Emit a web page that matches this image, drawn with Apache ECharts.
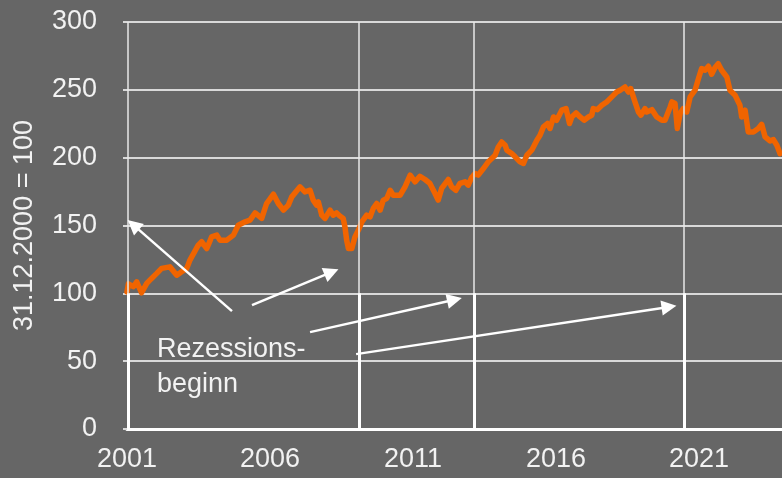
<!DOCTYPE html>
<html>
<head>
<meta charset="utf-8">
<script src="https://cdn.jsdelivr.net/npm/echarts@6/dist/echarts.min.js"></script>
<style>
  html, body { margin: 0; padding: 0; background: #666666; }
  #chart { width: 782px; height: 478px; }
</style>
</head>
<body>
<div id="chart"></div>
<script>
  // Zeitpunkte (Dezimaljahre) und Indexwerte, 31.12.2000 = 100
  var years = [
    2001.00, 2001.05, 2001.22, 2001.34, 2001.51, 2001.69, 2001.86, 2002.04, 2002.21, 2002.50,
    2002.74, 2002.91, 2003.09, 2003.20, 2003.49, 2003.61, 2003.79, 2003.96, 2004.14, 2004.25,
    2004.49, 2004.72, 2004.89, 2005.13, 2005.30, 2005.48, 2005.71, 2005.88, 2006.12, 2006.29,
    2006.47, 2006.64, 2006.76, 2007.05, 2007.22, 2007.40, 2007.51, 2007.63, 2007.69, 2007.81,
    2007.92, 2008.10, 2008.21, 2008.33, 2008.45, 2008.56, 2008.62, 2008.68, 2008.74, 2008.86,
    2008.97, 2009.09, 2009.21, 2009.38, 2009.50, 2009.61, 2009.73, 2009.85, 2009.96, 2010.08,
    2010.20, 2010.31, 2010.55, 2010.72, 2010.90, 2011.07, 2011.24, 2011.42, 2011.59, 2011.77,
    2011.88, 2012.00, 2012.23, 2012.35, 2012.50, 2012.64, 2012.82, 2012.93, 2013.05, 2013.17,
    2013.28, 2013.46, 2013.63, 2013.87, 2013.98, 2014.10, 2014.22, 2014.28, 2014.45, 2014.57,
    2014.74, 2014.86, 2014.98, 2015.15, 2015.33, 2015.44, 2015.56, 2015.70, 2015.79, 2015.91,
    2016.02, 2016.20, 2016.35, 2016.47, 2016.55, 2016.70, 2016.84, 2016.98, 2017.13, 2017.25,
    2017.30, 2017.44, 2017.60, 2017.77, 2017.95, 2018.12, 2018.24, 2018.41, 2018.53, 2018.61,
    2018.76, 2018.88, 2018.97, 2019.11, 2019.17, 2019.35, 2019.52, 2019.70, 2019.81, 2019.99,
    2020.05, 2020.16, 2020.24, 2020.34, 2020.45, 2020.57, 2020.69, 2020.86, 2020.98, 2021.09,
    2021.21, 2021.33, 2021.44, 2021.56, 2021.67, 2021.79, 2021.97, 2022.08, 2022.26, 2022.43,
    2022.49, 2022.61, 2022.72, 2022.90, 2023.07, 2023.19, 2023.31, 2023.48, 2023.60, 2023.72,
    2023.83
  ]
  var values = [
    101, 107, 105, 108.5, 100.4, 107.3, 111, 114.7, 118.4, 119.5,
    113.4, 115.9, 118.4, 124.5, 135.5, 138, 133, 141.6, 142.9, 139.2,
    139.2, 142.9, 150.2, 152.7, 154, 159.3, 155.2, 166.2, 173.1, 166.2,
    161.3, 165, 171.1, 178.5, 174.8, 176, 168.7, 165, 167.4, 157.6,
    155.2, 161.3, 157.6, 159.3, 156.9, 155.2, 149, 139.2, 133.1, 133.1,
    141.6, 146.6, 152.7, 157.6, 156.4, 162.6, 166.2, 161.3, 168.7, 169.9,
    176, 172.3, 172.3, 178.5, 187.1, 182.2, 186.3, 183.9, 181, 173.6,
    168.7, 177.3, 183.9, 178.5, 176, 181, 182.2, 179.7, 185.4, 188.3,
    187.1, 192, 196.9, 201.8, 207.9, 211.6, 209.2, 205.5, 203, 200.6,
    196.9, 195.7, 201.8, 205.5, 212.9, 216.5, 222.7, 225.2, 221.5, 230,
    227.6, 235, 236.2, 225.2, 230, 233, 230, 227.6, 230, 231.3,
    236.2, 235.4, 238.6, 241.1, 244.8, 248.4, 249.7, 252.1, 248.4, 250.9,
    241.1, 233.7, 231.3, 236.2, 233.7, 235.4, 230, 227.6, 227.6, 237.4,
    241.1, 239.9, 221.5, 232.5, 236.2, 233.7, 244.8, 249.7, 258.3, 265.7,
    264.4, 267.4, 261.5, 266.4, 269.3, 264.4, 259.5, 249.7, 246, 238.6,
    230, 235, 219, 219, 221.5, 224.6, 215.3, 212.3, 213.3, 209.2,
    203
  ]
  // Beginn der Rezessionen
  var recessions = [2001.04, 2009.11, 2013.13, 2020.48]
  // Pfeile: Start [Jahr, Wert] -> Ziel [Jahr, Wert]
  var arrowFrom = [[2004.67, 86.9], [2005.37, 91.3], [2007.40, 71.4], [2009.01, 55.2]]
  var arrowTo = [[2001.22, 150.5], [2008.15, 115.6], [2012.45, 95.3], [2019.95, 90.0]]

  var font = '"Liberation Sans", Arial, sans-serif'
  var txt = '#f2f2f2'

  var seriesData = years.map(function (y, i) { return [y, values[i]] })

  var recLines = []
  recessions.forEach(function (r) {
    recLines.push([{ coord: [r, 0], lineStyle: { width: 1.5, color: '#e8e8e8' } }, { coord: [r, 300] }])
    recLines.push([{ coord: [r, 0], lineStyle: { width: 3, color: '#ffffff' } }, { coord: [r, 100] }])
  })

  var arrows = arrowFrom.map(function (a, i) {
    return [{ coord: a }, { coord: arrowTo[i] }]
  })

  var chart = echarts.init(document.getElementById('chart'))
  chart.setOption({
    backgroundColor: '#666666',
    animation: false,
    grid: { left: 127, right: 0, top: 22, bottom: 49 },
    xAxis: {
      type: 'value',
      min: 2001,
      max: 2023.9,
      interval: 5,
      axisLine: { show: true, lineStyle: { color: '#ffffff', width: 3 } },
      axisTick: { show: false },
      splitLine: { show: false },
      axisLabel: {
        color: txt, fontSize: 27, fontFamily: font, margin: 17,
        showMaxLabel: false,
        formatter: function (v) { return String(Math.round(v)) }
      }
    },
    yAxis: {
      type: 'value',
      min: 0,
      max: 300,
      interval: 50,
      name: '31.12.2000 = 100',
      nameLocation: 'middle',
      nameRotate: 90,
      nameGap: 89,
      nameTextStyle: { color: txt, fontSize: 27, fontFamily: font },
      axisLine: { show: false },
      axisTick: { show: true, length: 4, lineStyle: { color: '#d9d9d9', width: 2 } },
      splitLine: { lineStyle: { color: '#d9d9d9', width: 2 } },
      axisLabel: { color: txt, fontSize: 27, fontFamily: font, margin: 30 }
    },
    series: [
      {
        type: 'line',
        data: [],
        z: 1,
        silent: true,
        markLine: {
          silent: true,
          symbol: ['none', 'none'],
          label: { show: false },
          lineStyle: { type: 'solid' },
          data: recLines
        }
      },
      {
        type: 'line',
        data: seriesData,
        z: 2,
        showSymbol: false,
        smooth: false,
        lineStyle: { color: '#f06400', width: 5.5, join: 'round', cap: 'round' },
        itemStyle: { color: '#f06400' }
      },
      {
        type: 'line',
        data: [],
        z: 3,
        silent: true,
        markLine: {
          silent: true,
          symbol: ['none', 'triangle'],
          symbolSize: 15,
          label: { show: false },
          itemStyle: { color: '#ffffff' },
          lineStyle: { type: 'solid', color: '#ffffff', width: 2.5 },
          data: arrows
        }
      }
    ],
    graphic: [
      {
        type: 'text',
        left: 157,
        top: 332,
        style: {
          text: 'Rezessions-\nbeginn',
          fill: txt,
          font: '27px ' + font,
          lineHeight: 35
        }
      }
    ]
  })
</script>
</body>
</html>
